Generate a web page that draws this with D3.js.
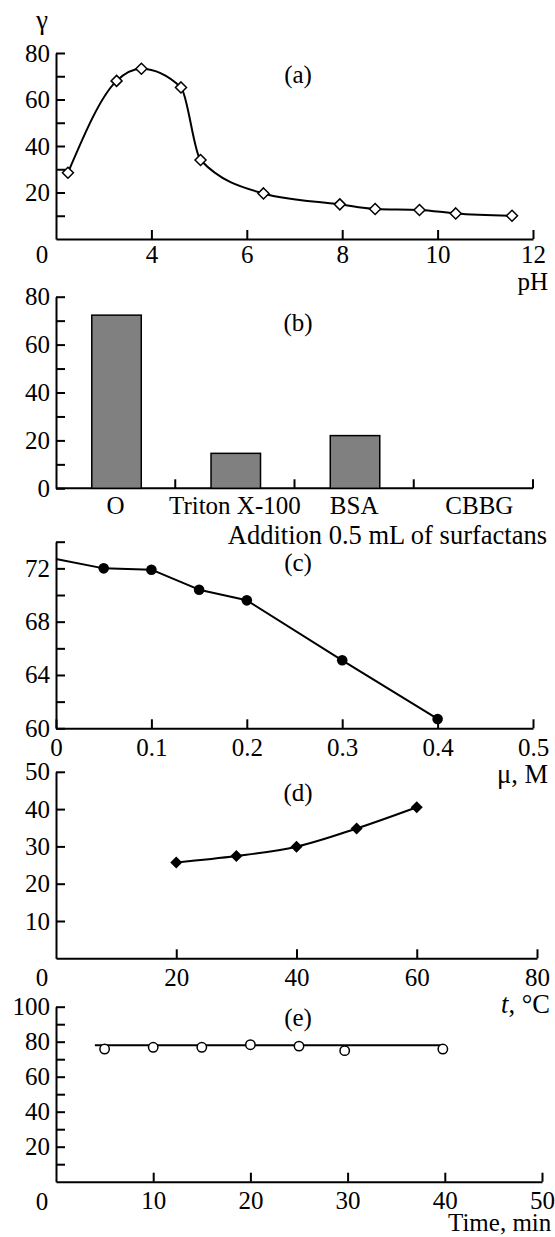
<!DOCTYPE html>
<html><head><meta charset="utf-8">
<script src="https://cdn.jsdelivr.net/npm/d3@7"></script>
<style>
body{margin:0;background:#fff}
svg text{font-family:"Liberation Serif","Times New Roman",serif;font-size:25px;fill:#000}
svg text.title{font-size:26.5px}
svg text.small{font-size:25px}
</style></head><body>
<svg id="chart" width="555" height="1237"></svg>
<script>
// ---- data ----
// (a) gamma vs pH
const phValues = [2.25, 3.27, 3.79, 4.62, 5.03, 6.35, 7.95, 8.69, 9.62, 10.38, 11.56];
const phGamma  = [28.5, 68.0, 73.2, 65.2, 34.0, 19.6, 14.9, 12.9, 12.5, 11.0, 10.0];
const phXTicks = [4, 6, 8, 10, 12];
const phYTicks = [10, 20, 30, 40, 50, 60, 70, 80];
// (b) surfactants
const surfactants = ["O", "Triton X-100", "BSA", "CBBG"];
const surfGamma   = [72.3, 14.6, 22.0, 0];
const surfYTicks  = [0, 10, 20, 30, 40, 50, 60, 70, 80];
// (c) ionic strength
const muValues   = [0.05, 0.1, 0.15, 0.2, 0.3, 0.4];
const muGamma    = [72.0, 71.9, 70.4, 69.6, 65.1, 60.7];
const muCurveStart = [0, 72.7];
const muXTicks   = [0, 0.1, 0.2, 0.3, 0.4, 0.5];
const muYTicks   = [60, 62, 64, 66, 68, 70, 72, 74];
// (d) temperature
const tempValues = [20, 30, 40, 50, 60];
const tempGamma  = [25.7, 27.4, 29.9, 34.8, 40.5];
const tempXTicks = [20, 40, 60, 80];
const tempYTicks = [10, 20, 30, 40, 50];
// (e) time
const timeValues = [5, 10, 15, 20, 25, 29.7, 39.8];
const timeGamma  = [75.8, 76.8, 76.8, 78.3, 77.5, 74.9, 75.8];
const timeLineX  = [4, 40];
const timeLineY  = [78, 78];
const timeXTicks = [10, 20, 30, 40, 50];
const timeYTicks = [10, 20, 30, 40, 50, 60, 70, 80, 90, 100];

// ---- drawing ----
const svg = d3.select("#chart");
const TICK = 9;

function styleAxis(g){
  g.selectAll(".domain").attr("stroke","#000").attr("stroke-width",2);
  g.selectAll(".tick line").attr("stroke","#000").attr("stroke-width",2);
}
function leftAxis(y, ticks, fmt){
  const g = svg.append("g").attr("transform","translate(56,0)")
    .call(d3.axisLeft(y).tickValues(ticks).tickFormat(fmt).tickSize(-TICK).tickSizeOuter(0).tickPadding(6));
  styleAxis(g); return g;
}
function bottomAxis(x, y0, ticks, fmt, pad){
  const g = svg.append("g").attr("transform",`translate(0,${y0})`)
    .call(d3.axisBottom(x).tickValues(ticks).tickFormat(fmt).tickSize(-TICK).tickSizeOuter(0).tickPadding(pad));
  styleAxis(g); return g;
}
function label(txt, x, y, anchor, cls){
  const t = svg.append("text").attr("x",x).attr("y",y).attr("text-anchor",anchor||"middle").text(txt);
  if (cls) t.attr("class", cls);
  return t;
}
const diamond = r => `M0,${-r}L${r},0L0,${r}L${-r},0Z`;

// ---- (a) ----
const xA = d3.scaleLinear().domain([2,12]).range([56,533]);
const yA = d3.scaleLinear().domain([0,80]).range([239,53]);
leftAxis(yA, phYTicks, d => d%20===0 ? d : "");
bottomAxis(xA, yA(0), phXTicks, d => d, 6.5);
label("0", 42, 263);
label("γ", 42, 29, "middle", "title");
label("(a)", 298, 82.5);
label("pH", 548, 290, "end", "small");
const dataA = phValues.map((v,i)=>[v, phGamma[i]]);
svg.append("path").datum(dataA)
  .attr("d", d3.line().x(d=>xA(d[0])).y(d=>yA(d[1])).curve(d3.curveMonotoneX))
  .attr("fill","none").attr("stroke","#000").attr("stroke-width",2);
svg.append("g").selectAll("path").data(dataA).join("path")
  .attr("transform", d=>`translate(${xA(d[0])},${yA(d[1])})`)
  .attr("d", diamond(5.5)).attr("fill","#fff").attr("stroke","#000").attr("stroke-width",1.5);

// ---- (b) ----
const xB = d3.scaleBand().domain(surfactants).range([56,533]);
const yB = d3.scaleLinear().domain([0,80]).range([488.3,296.7]);
const bw = xB.bandwidth();
leftAxis(yB, surfYTicks, d => d%20===0 ? d : "");
svg.append("line").attr("x1",56).attr("x2",xB.range()[1]).attr("y1",yB(0)).attr("y2",yB(0))
  .attr("stroke","#000").attr("stroke-width",2);
svg.append("g").selectAll("line").data(surfactants).join("line")
  .attr("x1", c=>xB(c)+bw).attr("x2", c=>xB(c)+bw)
  .attr("y1", yB(0)).attr("y2", yB(0)-TICK).attr("stroke","#000").attr("stroke-width",2);
svg.append("g").selectAll("rect").data(surfactants.map((c,i)=>[c,surfGamma[i]]).filter(d=>d[1]>0)).join("rect")
  .attr("x", d=>xB(d[0])+bw*0.3).attr("width", bw*0.415)
  .attr("y", d=>yB(d[1])).attr("height", d=>yB(0)-yB(d[1]))
  .attr("fill","#808080").attr("stroke","#000").attr("stroke-width",1.5);
svg.append("g").selectAll("text").data(surfactants).join("text")
  .attr("x", (c,i)=>xB(c)+bw/2 + (i===3 ? 6 : 0)).attr("y", yB(0)+26).attr("text-anchor","middle").text(c=>c);
label("Addition 0.5 mL of surfactans", 547, 544, "end", "title");
label("(b)", 298, 330.5);

// ---- (c) ----
const xC = d3.scaleLinear().domain([0,0.5]).range([56,533]);
const yC = d3.scaleLinear().domain([60,74]).range([728.3,541.7]);
leftAxis(yC, muYTicks, d => d%4===0 ? d : "");
bottomAxis(xC, yC(60), muXTicks, d => d===0 ? "0" : d3.format(".1f")(d), 10);
label("(c)", 298, 570.5);
label("μ, M", 548, 783, "end", "title");
const dataC = muValues.map((v,i)=>[v, muGamma[i]]);
svg.append("path").datum([muCurveStart, ...dataC])
  .attr("d", d3.line().x(d=>xC(d[0])).y(d=>yC(d[1])).curve(d3.curveLinear))
  .attr("fill","none").attr("stroke","#000").attr("stroke-width",2).attr("stroke-linejoin","round");
svg.append("g").selectAll("circle").data(dataC).join("circle")
  .attr("cx", d=>xC(d[0])).attr("cy", d=>yC(d[1])).attr("r",5.3).attr("fill","#000");

// ---- (d) ----
const xD = d3.scaleLinear().domain([0,80]).range([56,537]);
const yD = d3.scaleLinear().domain([0,50]).range([958.3,771.8]);
leftAxis(yD, tempYTicks, d => d);
bottomAxis(xD, yD(0), tempXTicks, d => d, 10);
label("0", 42, 986);
label("(d)", 298, 800.5);
const tl = label("", 550, 1013, "end", "title");
tl.append("tspan").style("font-style","italic").text("t");
tl.append("tspan").text(", °C");
const dataD = tempValues.map((v,i)=>[v, tempGamma[i]]);
svg.append("path").datum(dataD)
  .attr("d", d3.line().x(d=>xD(d[0])).y(d=>yD(d[1])).curve(d3.curveMonotoneX))
  .attr("fill","none").attr("stroke","#000").attr("stroke-width",2);
svg.append("g").selectAll("path").data(dataD).join("path")
  .attr("transform", d=>`translate(${xD(d[0])},${yD(d[1])})`)
  .attr("d", diamond(6)).attr("fill","#000");

// ---- (e) ----
const xE = d3.scaleLinear().domain([0,50]).range([56,542]);
const yE = d3.scaleLinear().domain([0,100]).range([1181.7,1006.7]);
leftAxis(yE, timeYTicks, d => d%20===0 ? d : "");
bottomAxis(xE, yE(0), timeXTicks, d => d, 10);
label("0", 42, 1210);
label("(e)", 298, 1025.5);
label("Time, min", 448, 1231, "start", "small");
svg.append("path").datum(timeLineX.map((v,i)=>[v, timeLineY[i]]))
  .attr("d", d3.line().x(d=>xE(d[0])).y(d=>yE(d[1])))
  .attr("fill","none").attr("stroke","#000").attr("stroke-width",2);
svg.append("g").selectAll("circle").data(timeValues.map((v,i)=>[v, timeGamma[i]])).join("circle")
  .attr("cx", d=>xE(d[0])).attr("cy", d=>yE(d[1])).attr("r",4.7)
  .attr("fill","#fff").attr("stroke","#000").attr("stroke-width",1.5);
</script>
</body></html>
